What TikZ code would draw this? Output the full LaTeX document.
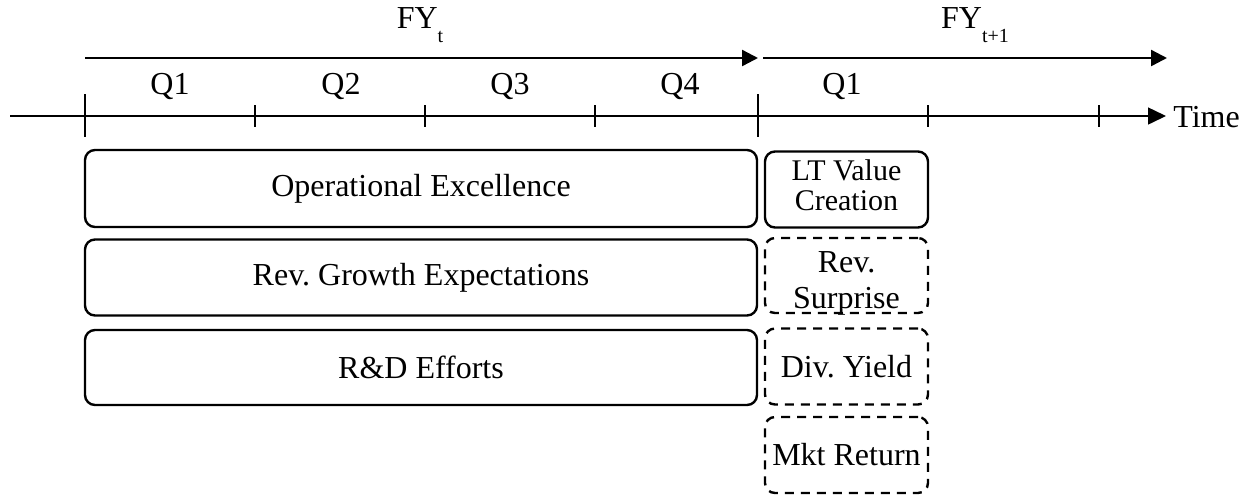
\documentclass[tikz,border=0pt]{standalone}
\usepackage{fontspec}
\setmainfont{Liberation Serif}
\usetikzlibrary{arrows.meta}
\tikzset{
  px/.style={x=0.5pt,y=-0.5pt},
  lbl/.style={font=\fontsize{16}{15}\selectfont, inner sep=0pt},
  box/.style={draw, line width=1.2pt, rounded corners=5pt, inner sep=0pt, align=center,
     font=\fontsize{16}{15}\selectfont\frenchspacing},
  dbox/.style={box, dash pattern=on 4.5pt off 3.5pt},
  fyarrow/.style={line width=1.2pt, -{Triangle[length=8pt,width=8pt]}},
  timeline/.style={line width=0.75pt, -{Triangle[length=9pt,width=8.5pt]}},
  major/.style={line width=1.3pt},
  minor/.style={line width=1.3pt}
}
\begin{document}
\frenchspacing
\begin{tikzpicture}[px]
\useasboundingbox (0,0) rectangle (1255,495);
% year labels
\node[lbl, anchor=base] (fyt) at (420,28) {FY\raisebox{-7pt}{\fontsize{10}{10}\selectfont t}};
\node[lbl, anchor=base] (fyt1) at (975,28) {FY\raisebox{-7pt}{\fontsize{10}{10}\selectfont t+1}};
% year arrows
\coordinate (a0) at (85,58);
\coordinate (a1) at (758,58);
\coordinate (a2) at (763,58);
\coordinate (a3) at (1167,58);
\draw[fyarrow] (a0) -- (a1);
\draw[fyarrow] (a2) -- (a3);
% quarter labels
\node[lbl, anchor=base] (q1) at (170,94) {Q1};
\node[lbl, anchor=base] (q2) at (341,94) {Q2};
\node[lbl, anchor=base] (q3) at (510,94) {Q3};
\node[lbl, anchor=base] (q4) at (680,94) {Q4};
\node[lbl, anchor=base] (q5) at (842,94) {Q1};
% time axis
\coordinate (t0) at (10,116);
\coordinate (t1) at (1166,116);
\draw[timeline] (t0) -- (t1);
\node[lbl, anchor=base west] (time) at (1173,127) {Time};
% ticks
\foreach \x in {85,758} \draw[major] (\x,94) -- (\x,137);
\foreach \x in {255,425,595,928,1099} \draw[minor] (\x,105) -- (\x,127);
% left boxes
\node[box, minimum width=336pt, minimum height=38.5pt] (opex) at (421,188.5) {Operational Excellence};
\node[box, minimum width=336pt, minimum height=38pt] (revg) at (421,277.5) {Rev. Growth Expectations};
\node[box, minimum width=336pt, minimum height=37.5pt] (rd) at (421,367.5) {R\&D Efforts};
% right boxes
\node[box, minimum width=81.5pt, minimum height=38pt] (ltv) at (846.5,189.5)
  {\raisebox{1.5pt}{\fontsize{15}{15}\selectfont\begin{tabular}{@{}c@{}}LT Value\\Creation\end{tabular}}};
\node[dbox, minimum width=81.5pt, minimum height=37.5pt] (revs) at (846.5,275.5)
  {\raisebox{-9pt}[0pt][0pt]{\begin{tabular}{@{}c@{}}Rev.\\[3pt]Surprise\end{tabular}}};
\node[dbox, minimum width=81.5pt, minimum height=38pt] (div) at (846.5,366.5) {Div. Yield};
\node[dbox, minimum width=81.5pt, minimum height=38pt] (mkt) at (846.5,455) {Mkt Return};
\end{tikzpicture}
\end{document}
